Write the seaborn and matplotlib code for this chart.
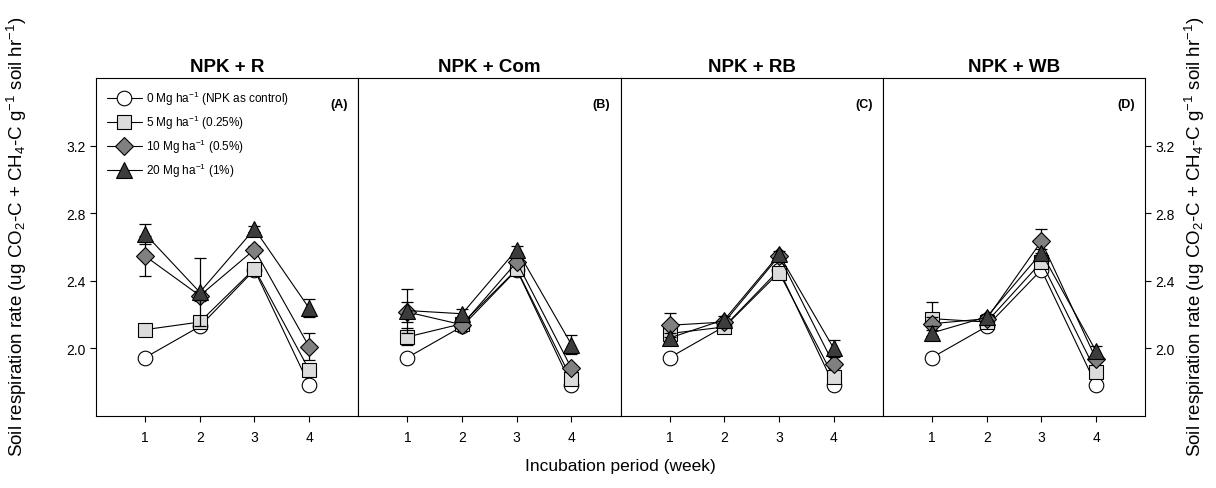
import numpy as np
import pandas as pd
import matplotlib
matplotlib.use("Agg")
import matplotlib.pyplot as plt
import seaborn as sns

sns.set_style("ticks")
plt.rcParams['font.family'] = ['Liberation Sans', 'DejaVu Sans']
plt.rcParams['mathtext.fontset'] = 'custom'
plt.rcParams['mathtext.rm'] = 'Liberation Sans'
plt.rcParams['mathtext.it'] = 'Liberation Sans:italic'
plt.rcParams['mathtext.bf'] = 'Liberation Sans:bold'
for key in ['text.color', 'axes.labelcolor', 'xtick.color', 'ytick.color', 'axes.edgecolor']:
    plt.rcParams[key] = 'black'

# %%
# data
weeks = [1, 2, 3, 4]
panels = ["NPK + R", "NPK + Com", "NPK + RB", "NPK + WB"]
letters = ["(A)", "(B)", "(C)", "(D)"]
rates = ["0 Mg ha$^{-1}$ (NPK as control)", "5 Mg ha$^{-1}$ (0.25%)",
         "10 Mg ha$^{-1}$ (0.5%)", "20 Mg ha$^{-1}$ (1%)"]

control = [1.946, 2.130, 2.465, 1.785]
control_err = [0.01, 0.01, 0.02, 0.01]

r_5 = [2.111, 2.156, 2.472, 1.873]
r_10 = [2.546, 2.312, 2.585, 2.010]
r_20 = [2.677, 2.332, 2.707, 2.238]
r_5_err = [0.03, 0.03, 0.03, 0.03]
r_10_err = [0.12, 0.03, 0.02, 0.08]
r_20_err = [0.06, 0.20, 0.02, 0.055]

com_5 = [2.068, 2.146, 2.468, 1.820]
com_10 = [2.215, 2.140, 2.511, 1.883]
com_20 = [2.224, 2.205, 2.585, 2.023]
com_5_err = [0.05, 0.02, 0.02, 0.03]
com_10_err = [0.06, 0.02, 0.02, 0.02]
com_20_err = [0.13, 0.03, 0.02, 0.055]

rb_5 = [2.088, 2.127, 2.449, 1.830]
rb_10 = [2.137, 2.156, 2.546, 1.906]
rb_20 = [2.062, 2.170, 2.556, 2.000]
rb_5_err = [0.03, 0.02, 0.02, 0.02]
rb_10_err = [0.07, 0.02, 0.02, 0.02]
rb_20_err = [0.03, 0.02, 0.02, 0.05]

wb_5 = [2.176, 2.156, 2.511, 1.863]
wb_10 = [2.146, 2.176, 2.634, 1.937]
wb_20 = [2.092, 2.186, 2.566, 1.984]
wb_5_err = [0.10, 0.02, 0.02, 0.03]
wb_10_err = [0.04, 0.02, 0.07, 0.02]
wb_20_err = [0.04, 0.02, 0.02, 0.03]

panel_data = [
    [(control, control_err), (r_5, r_5_err), (r_10, r_10_err), (r_20, r_20_err)],
    [(control, control_err), (com_5, com_5_err), (com_10, com_10_err), (com_20, com_20_err)],
    [(control, control_err), (rb_5, rb_5_err), (rb_10, rb_10_err), (rb_20, rb_20_err)],
    [(control, control_err), (wb_5, wb_5_err), (wb_10, wb_10_err), (wb_20, wb_20_err)],
]

markers = ['o', 's', 'D', '^']
face_colors = ['white', '#dcdcdc', '#808080', '#3c3c3c']
marker_sizes = [10.5, 9.5, 9, 11]

# %%
fig = plt.figure(figsize=(12.16, 4.89), dpi=100)
left, width = 96 / 1216, 262.3 / 1216
bottom, height = 72 / 489, 338 / 489

for i, title in enumerate(panels):
    ax = fig.add_axes([left + i * width, bottom, width, height])
    for j, (vals, errs) in enumerate(panel_data[i]):
        df = pd.DataFrame({'week': weeks, 'rate': vals})
        ax.errorbar(weeks, vals, yerr=errs, fmt='none', ecolor='black',
                    elinewidth=0.9, capsize=4, capthick=0.9, zorder=2 + j)
        sns.lineplot(data=df, x='week', y='rate', ax=ax, color='black',
                     linewidth=0.8, marker=markers[j], markersize=marker_sizes[j],
                     markerfacecolor=face_colors[j], markeredgecolor='black',
                     markeredgewidth=0.8, label=rates[j], zorder=3 + j)
    ax.set_xlim(0.1, 4.9)
    ax.set_ylim(1.6, 3.6)
    ax.set_xticks(weeks)
    ax.set_yticks([2.0, 2.4, 2.8, 3.2])
    ax.set_xlabel('')
    ax.set_ylabel('')
    ax.tick_params(axis='x', direction='out', length=4, width=0.8, labelsize=10, pad=6)
    ax.tick_params(axis='y', direction='out', length=4, width=0.8, labelsize=10,
                   left=(i == 0), labelleft=(i == 0), right=True, labelright=(i == 3))
    for s in ax.spines.values():
        s.set_linewidth(0.8)
        s.set_visible(True)
    ax.set_title(title, fontsize=13.5, fontweight='bold', pad=5)
    ax.text(0.96, 0.94, letters[i], transform=ax.transAxes, ha='right', va='top',
            fontsize=9, fontweight='bold')
    if i == 0:
        ax.legend(loc='upper left', frameon=False, fontsize=8.5, handlelength=3.0,
                  borderaxespad=0.5, labelspacing=0.5, handletextpad=0.35,
                  bbox_to_anchor=(0.0, 1.0))
    elif ax.get_legend():
        ax.get_legend().remove()

ylab = 'Soil respiration rate (ug CO$_2$-C + CH$_4$-C g$^{-1}$ soil hr$^{-1}$)'
fig.text(0.014, 0.515, ylab, rotation=90, va='center', ha='center', fontsize=13.5)
fig.text(0.983, 0.515, ylab, rotation=90, va='center', ha='center', fontsize=13.5)
fig.text(0.51, 0.047, 'Incubation period (week)', ha='center', va='center', fontsize=12.5)

plt.savefig('out.png', dpi=100)
plt.close()
